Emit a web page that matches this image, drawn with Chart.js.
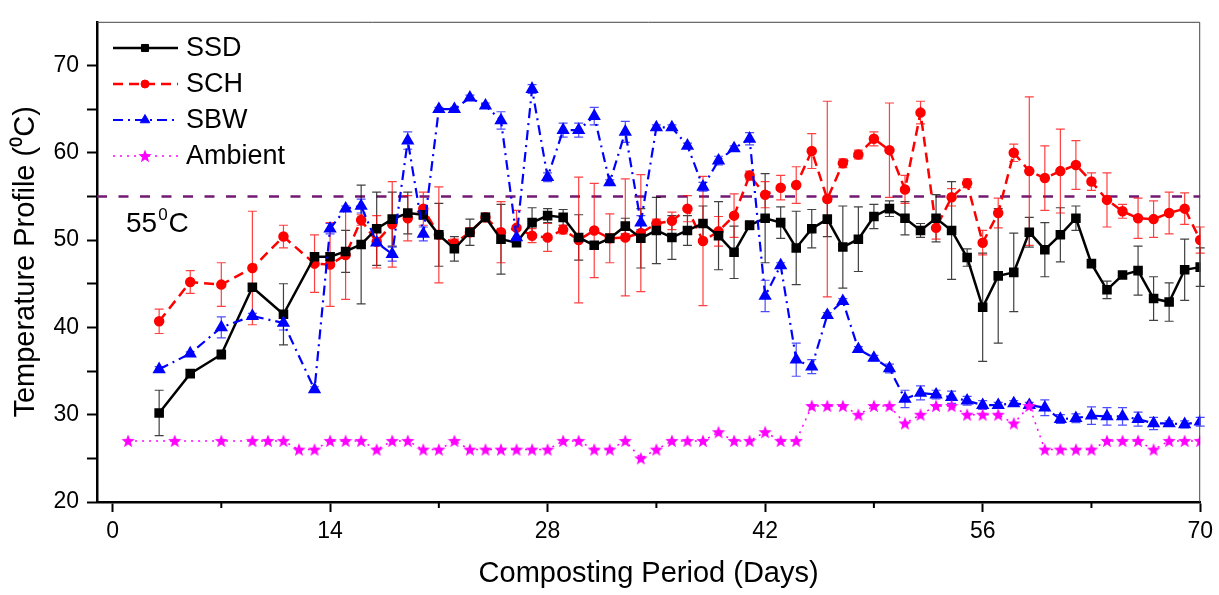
<!DOCTYPE html>
<html>
<head>
<meta charset="utf-8">
<script src="https://cdn.jsdelivr.net/npm/chart.js@4.4.1/dist/chart.umd.min.js"></script>
<style>
  body { margin: 0; background: #fff; }
  #wrap { width: 1219px; height: 595px; }
</style>
</head>
<body>
<div id="wrap"><canvas id="chart" width="1219" height="595"></canvas></div>
<script>
// sampling days of the three piles and of the ambient reading
const days = [3, 5, 7, 9, 11, 13, 14, 15, 16, 17, 18, 19, 20, 21, 22, 23, 24, 25, 26, 27, 28, 29, 30,
  31, 32, 33, 34, 35, 36, 37, 38, 39, 40, 41, 42, 43, 44, 45, 46, 47, 48, 49, 50, 51, 52, 53, 54, 55,
  56, 57, 58, 59, 60, 61, 62, 63, 64, 65, 66, 67, 68, 69, 70];
const ambientDays = [1, 4, 7, 9, 10, 11, 12, 13, 14, 15, 16, 17, 18, 19, 20, 21, 22, 23, 24, 25, 26,
  27, 28, 29, 30, 31, 32, 33, 34, 35, 36, 37, 38, 39, 40, 41, 42, 43, 44, 45, 46, 47, 48, 49, 50, 51,
  52, 53, 54, 55, 56, 57, 58, 59, 60, 61, 62, 63, 64, 65, 66, 67, 68, 69, 70];

const ssd = [30.2, 34.7, 36.9, 44.6, 41.5, 48.1, 48.1, 48.7, 49.5, 51.3, 52.4, 53.1, 52.9, 50.6, 49.0,
  50.9, 52.6, 50.1, 49.7, 52.0, 52.8, 52.6, 50.3, 49.4, 50.2, 51.6, 50.2, 51.1, 50.3, 51.1, 51.9, 50.5,
  48.6, 51.7, 52.5, 52.0, 49.1, 51.3, 52.4, 49.2, 50.1, 52.7, 53.6, 52.5, 51.1, 52.5, 51.1, 48.0, 42.3,
  45.9, 46.3, 50.9, 48.9, 50.6, 52.5, 47.3, 44.3, 46.0, 46.5, 43.3, 42.9, 46.6, 46.9];
const ssdErr = [2.6, 0.4, 0.5, 0.4, 3.5, 0.4, 0.4, 2.4, 6.8, 4.2, 3.1, 2.4, 0.5, 3.6, 1.4, 1.5, 0.4,
  4.0, 0.4, 1.7, 0.8, 0.9, 2.6, 0.4, 0.5, 0.9, 3.4, 3.8, 2.5, 1.7, 2.0, 3.9, 3.0, 0.5, 5.1, 1.8, 4.2,
  2.2, 2.0, 4.7, 3.7, 1.4, 0.9, 1.9, 0.8, 2.7, 5.6, 1.0, 6.2, 7.7, 4.5, 1.7, 3.1, 3.1, 1.4, 0.4, 1.0,
  0.4, 2.8, 2.5, 2.2, 3.5, 2.2];

const sch = [40.7, 45.2, 44.9, 46.8, 50.4, 47.3, 47.2, 48.3, 52.3, 49.8, 51.8, 52.5, 53.6, 50.6, 49.6,
  50.9, 52.6, 50.9, 51.4, 50.5, 50.3, 51.2, 50.0, 51.1, 50.2, 50.3, 50.8, 51.9, 52.2, 53.6, 49.9, 51.0,
  52.8, 57.4, 55.2, 56.0, 56.3, 60.2, 54.7, 58.8, 59.8, 61.6, 60.3, 55.8, 64.6, 51.4, 54.9, 56.5, 49.7,
  53.1, 60.0, 57.9, 57.1, 57.9, 58.6, 56.7, 54.6, 53.3, 52.5, 52.4, 53.1, 53.6, 50.0];
const schErr = [1.4, 1.3, 2.5, 6.5, 1.3, 3.3, 4.8, 5.1, 0.6, 3.0, 4.9, 2.6, 1.9, 5.5, 0.5, 0.5, 0.5,
  3.5, 2.0, 0.8, 1.6, 0.5, 7.2, 5.4, 2.8, 6.7, 6.7, 0.5, 1.0, 1.5, 7.4, 1.7, 2.5, 0.5, 1.5, 1.4, 2.1,
  2.0, 11.2, 0.5, 0.5, 0.8, 5.4, 1.6, 1.3, 1.3, 1.0, 0.5, 1.4, 1.7, 1.0, 8.5, 3.7, 4.8, 2.8, 1.0, 3.1,
  0.8, 2.3, 2.1, 2.4, 1.8, 1.5];

const sbw = [35.2, 37.0, 40.0, 41.3, 40.5, 32.9, 51.3, 53.6, 53.9, 49.7, 48.4, 61.4, 50.7, 65.0, 65.0,
  66.3, 65.4, 63.7, 50.3, 67.3, 57.2, 62.6, 62.6, 64.2, 56.6, 62.4, 52.0, 62.9, 62.9, 60.8, 56.1, 59.1,
  60.5, 61.6, 43.6, 47.1, 36.3, 35.5, 41.4, 43.0, 37.5, 36.5, 35.3, 31.8, 32.5, 32.3, 32.0, 31.6, 31.1,
  31.1, 31.3, 31.1, 30.8, 29.5, 29.6, 29.9, 29.8, 29.8, 29.5, 29.0, 29.0, 28.9, 29.2];
const sbwErr = [0.3, 0.2, 1.2, 0.3, 0.8, 0.3, 0.6, 0.3, 0.8, 0.3, 0.8, 1.0, 0.8, 0.2, 0.2, 0.3, 0.3,
  1.0, 0.8, 0.5, 0.5, 0.8, 0.8, 1.0, 0.3, 1.2, 0.8, 0.3, 0.3, 0.3, 0.5, 0.5, 0.3, 0.7, 1.8, 0.3, 1.9,
  0.8, 0.3, 0.3, 0.3, 0.3, 0.5, 1.0, 0.8, 0.5, 0.7, 0.5, 0.5, 0.3, 0.3, 0.3, 0.9, 0.5, 0.5, 1.0, 1.0,
  1.0, 0.8, 0.7, 0.3, 0.4, 0.5];

const ambient = [27, 27, 27, 27, 27, 27, 26, 26, 27, 27, 27, 26, 27, 27, 26, 26, 27, 26, 26, 26, 26,
  26, 26, 27, 27, 26, 26, 27, 25, 26, 27, 27, 27, 28, 27, 27, 28, 27, 27, 31, 31, 31, 30, 31, 31, 29,
  30, 31, 31, 30, 30, 30, 29, 31, 26, 26, 26, 26, 27, 27, 27, 26, 27, 27, 27];

const xTicks = [0, 7, 14, 21, 28, 35, 42, 49, 56, 63, 70];
const yTicks = [20, 25, 30, 35, 40, 45, 50, 55, 60, 65, 70];
const threshold = 55;

const FONT = "'Liberation Sans', Arial, sans-serif";
Chart.defaults.font.family = FONT;
Chart.defaults.color = '#000';

// filled five point star for the ambient series
function makeStar(size, color) {
  const c = document.createElement('canvas');
  c.width = size; c.height = size;
  const g = c.getContext('2d');
  const cx = size / 2, cy = size / 2 + 0.5, R = size / 2, r = R * 0.42;
  g.beginPath();
  for (let i = 0; i < 10; i++) {
    const a = -Math.PI / 2 + i * Math.PI / 5;
    const rad = i % 2 ? r : R;
    g.lineTo(cx + rad * Math.cos(a), cy + rad * Math.sin(a));
  }
  g.closePath();
  g.fillStyle = color;
  g.fill();
  return c;
}
const star = makeStar(14, '#ff00ff');

const pts = (xs, ys) => xs.map((d, i) => ({ x: d, y: ys[i] }));

const errorBars = {
  id: 'errorBars',
  beforeDatasetsDraw(chart) {
    const { ctx, chartArea, scales: { x, y } } = chart;
    ctx.save();
    // 55 C line
    const yy = y.getPixelForValue(threshold);
    ctx.strokeStyle = '#731873';
    ctx.lineWidth = 2.5;
    ctx.setLineDash([10, 11.5]);
    ctx.beginPath();
    ctx.moveTo(chartArea.left, yy);
    ctx.lineTo(chartArea.right, yy);
    ctx.stroke();
    ctx.setLineDash([]);

    chart.data.datasets.forEach(ds => {
      if (!ds.errors) return;
      ctx.strokeStyle = ds.errorColor;
      ctx.lineWidth = 1.2;
      ds.data.forEach((p, j) => {
        const e = ds.errors[j];
        const px = x.getPixelForValue(p.x);
        const t = y.getPixelForValue(p.y + e);
        const b = y.getPixelForValue(p.y - e);
        ctx.beginPath();
        ctx.moveTo(px, t); ctx.lineTo(px, b);
        ctx.moveTo(px - 4.5, t); ctx.lineTo(px + 4.5, t);
        ctx.moveTo(px - 4.5, b); ctx.lineTo(px + 4.5, b);
        ctx.stroke();
      });
    });
    ctx.restore();
  }
};

const decorations = {
  id: 'decorations',
  afterDraw(chart) {
    const { ctx, chartArea: a, scales: { x } } = chart;
    ctx.save();
    // thin frame on top and right
    ctx.strokeStyle = '#444';
    ctx.lineWidth = 1;
    ctx.beginPath();
    ctx.moveTo(a.left, a.top + 0.5);
    ctx.lineTo(a.right - 0.5, a.top + 0.5);
    ctx.lineTo(a.right - 0.5, a.bottom);
    ctx.stroke();

    // short minor ticks on x
    ctx.strokeStyle = '#000';
    ctx.lineWidth = 2;
    xTicks.forEach(v => {
      if (v % 14 === 0) return;
      const px = x.getPixelForValue(v);
      ctx.beginPath();
      ctx.moveTo(px, a.bottom);
      ctx.lineTo(px, a.bottom + 6);
      ctx.stroke();
    });

    // 55 C label
    ctx.fillStyle = '#000';
    ctx.textBaseline = 'alphabetic';
    ctx.font = '28px ' + FONT;
    ctx.fillText('55', 126, 232);
    const w55 = ctx.measureText('55').width;
    ctx.font = '17px ' + FONT;
    ctx.fillText('0', 126 + w55 + 1, 220);
    const w0 = ctx.measureText('0').width;
    ctx.font = '28px ' + FONT;
    ctx.fillText('C', 126 + w55 + w0 + 2, 232);

    // legend
    const rows = [48, 84, 120, 156];
    chart.data.datasets.forEach((ds, i) => {
      const ry = rows[i];
      ctx.strokeStyle = ds.borderColor;
      ctx.lineWidth = ds.borderWidth;
      ctx.setLineDash(ds.borderDash || []);
      ctx.beginPath();
      ctx.moveTo(113, ry);
      ctx.lineTo(178, ry);
      ctx.stroke();
      ctx.setLineDash([]);
      ctx.fillStyle = ds.pointBackgroundColor;
      ctx.strokeStyle = ds.pointBorderColor;
      ctx.lineWidth = 1;
      Chart.helpers.drawPoint(ctx, {
        pointStyle: ds.pointStyle, radius: ds.pointRadius, rotation: 0, borderWidth: 1
      }, 145, ry);
      ctx.fillStyle = '#000';
      ctx.font = '27px ' + FONT;
      ctx.textBaseline = 'middle';
      ctx.fillText(ds.label, 186, ry + 1);
    });
    ctx.restore();
  }
};

new Chart(document.getElementById('chart'), {
  type: 'line',
  data: {
    datasets: [
      {
        label: 'SSD',
        data: pts(days, ssd),
        errors: ssdErr,
        errorColor: 'rgba(0,0,0,0.75)',
        borderColor: '#000',
        borderWidth: 2.5,
        pointStyle: 'rect',
        pointRadius: 5,
        pointBackgroundColor: '#000',
        pointBorderColor: '#000',
        order: 3
      },
      {
        label: 'SCH',
        data: pts(days, sch),
        errors: schErr,
        errorColor: 'rgba(255,0,0,0.75)',
        borderColor: '#ff0000',
        borderWidth: 2.5,
        borderDash: [10, 6],
        pointStyle: 'circle',
        pointRadius: 4,
        pointBackgroundColor: '#ff0000',
        pointBorderColor: '#ff0000',
        order: 4
      },
      {
        label: 'SBW',
        data: pts(days, sbw),
        errors: sbwErr,
        errorColor: 'rgba(0,0,255,0.7)',
        borderColor: '#0000ff',
        borderWidth: 2.2,
        borderDash: [10, 5, 2, 5],
        pointStyle: 'triangle',
        pointRadius: 5.5,
        pointBackgroundColor: '#0000ff',
        pointBorderColor: '#0000ff',
        order: 2
      },
      {
        label: 'Ambient',
        data: pts(ambientDays, ambient),
        borderColor: '#ff00ff',
        borderWidth: 1.5,
        borderDash: [2, 5],
        pointStyle: star,
        pointRadius: 7,
        pointBackgroundColor: '#ff00ff',
        pointBorderColor: '#ff00ff',
        order: 1
      }
    ]
  },
  options: {
    responsive: false,
    animation: false,
    layout: { padding: { top: 18, right: 15, left: 0, bottom: 0 } },
    plugins: { legend: { display: false }, tooltip: { enabled: false } },
    elements: { line: { tension: 0 } },
    scales: {
      x: {
        type: 'linear',
        min: -1,
        max: 70,
        afterBuildTicks: s => { s.ticks = xTicks.map(v => ({ value: v })); },
        afterFit: s => { s.height = 93; },
        ticks: {
          font: { size: 23 },
          padding: 6,
          maxRotation: 0,
          autoSkip: false,
          callback: v => (v % 14 === 0 ? v : '')
        },
        grid: {
          drawOnChartArea: false,
          tickLength: 10,
          tickWidth: 2,
          tickColor: c => (c.tick && c.tick.value % 14 === 0 ? '#000' : 'rgba(0,0,0,0)')
        },
        border: { color: '#000', width: 2.5 },
        title: {
          display: true,
          text: 'Composting Period (Days)',
          font: { size: 29 },
          padding: { top: 0, bottom: 4 }
        }
      },
      y: {
        min: 20,
        max: 75,
        afterBuildTicks: s => { s.ticks = yTicks.map(v => ({ value: v })); },
        afterFit: s => { s.width = 97; },
        ticks: {
          font: { size: 23 },
          padding: 8,
          autoSkip: false,
          callback: v => (v % 10 === 0 ? v : '')
        },
        grid: { drawOnChartArea: false, tickLength: 10, tickWidth: 2, tickColor: '#000' },
        border: { color: '#000', width: 2.5 },
        title: {
          display: true,
          text: 'Temperature Profile (\u2070C)',
          font: { size: 29 },
          padding: { top: 9, bottom: 0 }
        }
      }
    }
  },
  plugins: [errorBars, decorations]
});
</script>
</body>
</html>
